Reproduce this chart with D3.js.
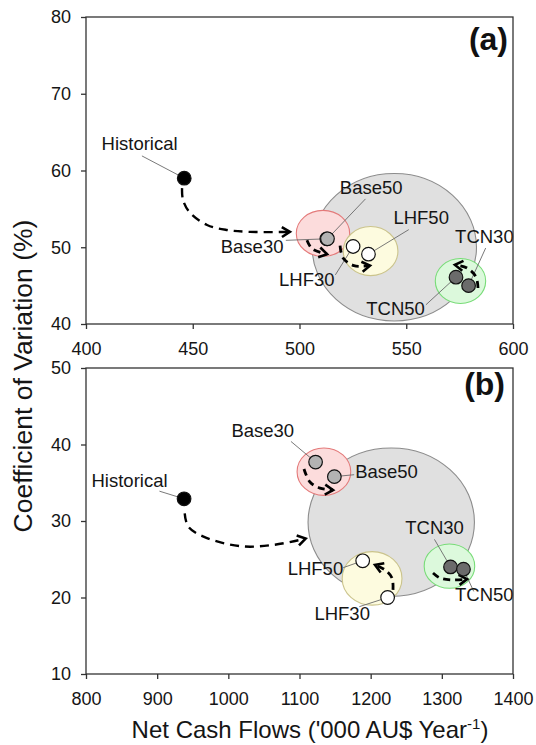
<!DOCTYPE html>
<html>
<head>
<meta charset="utf-8">
<script src="https://cdn.jsdelivr.net/npm/d3@7"></script>
<style>
  body { margin: 0; background: #fff; }
  svg { display: block; font-family: Arial, "Liberation Sans", sans-serif; }
</style>
</head>
<body>
<main></main>
<script>
(function () {

    // scenario points
    var scenarios = ["Historical", "Base30", "Base50", "LHF30", "LHF50", "TCN30", "TCN50"];
    var cashA = [446.0, 512.8, 513.1, 525.1, 532.3, 579.2, 573.3];
    var cvA = [59.0, 51.1, 51.1, 50.1, 49.1, 45.0, 46.1];
    var cashB = [937.8, 1122.6, 1149.0, 1223.8, 1188.8, 1312.2, 1330.4];
    var cvB = [32.9, 37.7, 35.8, 20.0, 24.8, 24.0, 23.7];

    // shaded groups: all, Base, LHF, TCN
    var groups = ["All", "Base", "LHF", "TCN"];
    var ellCxA = [544.4, 511.0, 533.3, 575.4],
        ellCyA = [50.0, 51.8, 49.5, 45.6],
        ellRxA = [38.5, 12.5, 12.8, 11.8],
        ellRyA = [9.6, 3.0, 3.2, 2.93];
    var ellCxB = [1228.9, 1134.3, 1202.0, 1310.7],
        ellCyB = [29.85, 36.45, 22.5, 24.1],
        ellRxB = [116.9, 37.7, 42.0, 35.5],
        ellRyB = [9.7, 3.1, 3.5, 2.9];

    // axis ticks
    var xTicksA = [400, 450, 500, 550, 600],
        yTicksA = [40, 50, 60, 70, 80],
        xTicksB = [800, 900, 1000, 1100, 1200, 1300, 1400],
        yTicksB = [10, 20, 30, 40, 50];

    // dashed arrows, in data units
    var arrowsA = [
        [[445.0, 57.7], [445.4, 56.2], [448.7, 54.5], [456.7, 52.9], [466.0, 52.25], [476.8, 52.0], [495.5, 52.0]],
        [[503.5, 50.9], [505.9, 49.8], [512.9, 49.1]],
        [[519.0, 50.2], [520.4, 48.6], [525.5, 47.6], [533.0, 47.6]],
        [[583.6, 44.7], [582.7, 46.1], [578.5, 47.3], [572.8, 47.7]]
    ];
    var arrowsB = [
        [[938.7, 31.0], [943.5, 29.3], [965.1, 27.95], [1017.8, 26.7], [1065.4, 26.9], [1108.6, 27.7]],
        [[1106.3, 36.8], [1114.7, 35.1], [1128.8, 34.3], [1147.1, 34.05]],
        [[1231.4, 21.0], [1230.0, 22.55], [1220.1, 23.6], [1206.1, 24.25]],
        [[1287.6, 23.2], [1297.4, 22.55], [1314.3, 22.3], [1335.4, 22.4]]
    ];

    // label placement (data units): text anchor point and leader start
    var labelsA = [
        {x: 425.1, y: 62.7, a: "middle", lx: 426.2, ly: 61.9},
        {x: 492.5, y: 49.2, a: "end", lx: 493.6, ly: 50.9},
        {x: 533.6, y: 57.0, a: "middle", lx: 530.9, ly: 56.3},
        {x: 503.4, y: 45.0, a: "middle", lx: 516.8, ly: 46.4},
        {x: 557.0, y: 53.0, a: "middle", lx: 551.2, ly: 52.3},
        {x: 586.6, y: 50.5, a: "middle", lx: 587.2, ly: 49.9},
        {x: 545.0, y: 41.2, a: "middle", lx: 559.2, ly: 42.5}
    ];
    var labelsB = [
        {x: 861.2, y: 34.4, a: "middle", lx: 903.2, ly: 33.9},
        {x: 1048.4, y: 41.0, a: "middle", lx: 1088.0, ly: 40.4},
        {x: 1178.2, y: 35.6, a: "start", lx: 1176.8, ly: 36.05},
        {x: 1160.0, y: 17.0, a: "middle", lx: 1184.0, ly: 18.8},
        {x: 1161.4, y: 23.0, a: "end", lx: 1161.4, ly: 23.9},
        {x: 1289.8, y: 28.3, a: "middle", lx: 1289.6, ly: 27.6},
        {x: 1359.7, y: 19.5, a: "middle", lx: 1344.8, ly: 20.8}
    ];

    var width = 536, height = 745;
    var ellFill = ["#e0e0e0", "#fcdcdc", "#fdfbdf", "#dcf9dc"],
        ellStroke = ["#8c8c8c", "#e47a7a", "#cbc48c", "#78dc78"];
    var dotFill = function (name) {
        if (name === "Historical") return "#000";
        if (name.indexOf("Base") === 0) return "#b3b3b3";
        if (name.indexOf("LHF") === 0) return "#fff";
        return "#6b6b6b";
    };

    var svg = d3.select("main").append("svg")
        .attr("width", width)
        .attr("height", height);

    var defs = svg.append("defs");
    defs.append("marker")
        .attr("id", "head")
        .attr("markerUnits", "userSpaceOnUse")
        .attr("viewBox", "0 0 14 14")
        .attr("markerWidth", 14)
        .attr("markerHeight", 14)
        .attr("refX", 11)
        .attr("refY", 7)
        .attr("orient", "auto")
        .append("path")
        .attr("d", "M3,2 L11,7 L3,12")
        .attr("fill", "none")
        .attr("stroke", "#000")
        .attr("stroke-width", 2.6);

    var Panel = function (opt) {
        var x = d3.scaleLinear().domain(opt.xDomain).range([86, 513]),
            y = d3.scaleLinear().domain(opt.yDomain).range([opt.bottom, opt.top]),
            g = svg.append("g");

        g.append("rect")
            .attr("x", 86).attr("y", opt.top)
            .attr("width", 427).attr("height", opt.bottom - opt.top)
            .attr("fill", "#fff");

        g.selectAll("ellipse")
            .data(groups)
            .enter().append("ellipse")
            .attr("cx", function (d, i) { return x(opt.ecx[i]); })
            .attr("cy", function (d, i) { return y(opt.ecy[i]); })
            .attr("rx", function (d, i) { return x(opt.ecx[i] + opt.erx[i]) - x(opt.ecx[i]); })
            .attr("ry", function (d, i) { return y(opt.ecy[i] - opt.ery[i]) - y(opt.ecy[i]); })
            .attr("fill", function (d, i) { return ellFill[i]; })
            .attr("stroke", function (d, i) { return ellStroke[i]; })
            .attr("stroke-width", 1.1);

        // leader lines
        g.selectAll("line.leader")
            .data(opt.labels)
            .enter().append("line")
            .attr("class", "leader")
            .attr("x1", function (d) { return x(d.lx); })
            .attr("y1", function (d) { return y(d.ly); })
            .attr("x2", function (d, i) { return x(opt.xs[i]); })
            .attr("y2", function (d, i) { return y(opt.ys[i]); })
            .attr("stroke", "#6a6a6a")
            .attr("stroke-width", 0.9);

        var line = d3.line()
            .x(function (d) { return x(d[0]); })
            .y(function (d) { return y(d[1]); })
            .curve(d3.curveCatmullRom);

        g.selectAll("path.arrow")
            .data(opt.arrows)
            .enter().append("path")
            .attr("class", "arrow")
            .attr("d", line)
            .attr("fill", "none")
            .attr("stroke", "#000")
            .attr("stroke-width", function (d, i) { return i === 0 ? 2.4 : 2.8; })
            .attr("stroke-dasharray", function (d, i) { return i === 0 ? "9,6" : "7,5"; })
            .attr("marker-end", "url(#head)");

        g.selectAll("circle")
            .data(scenarios)
            .enter().append("circle")
            .attr("cx", function (d, i) { return x(opt.xs[i]); })
            .attr("cy", function (d, i) { return y(opt.ys[i]); })
            .attr("r", 6.8)
            .attr("fill", dotFill)
            .attr("stroke", "#111")
            .attr("stroke-width", 1.2);

        g.selectAll("text.lab")
            .data(opt.labels)
            .enter().append("text")
            .attr("class", "lab")
            .attr("x", function (d) { return x(d.x); })
            .attr("y", function (d) { return y(d.y); })
            .attr("text-anchor", function (d) { return d.a; })
            .attr("font-size", 18.5)
            .attr("fill", "#151515")
            .text(function (d, i) { return scenarios[i]; });

        var ax = g.append("g")
            .attr("transform", "translate(0," + opt.bottom + ")")
            .call(d3.axisBottom(x).tickValues(opt.xTicks).tickFormat(d3.format("d"))
                .tickSize(5).tickPadding(13).tickSizeOuter(0));
        var ay = g.append("g")
            .attr("transform", "translate(86,0)")
            .call(d3.axisLeft(y).tickValues(opt.yTicks).tickFormat(d3.format("d"))
                .tickSize(5).tickPadding(10).tickSizeOuter(0));
        [ax, ay].forEach(function (a) {
            a.select(".domain").remove();
            a.selectAll("line").attr("stroke", "#333").attr("stroke-width", 1.3);
            a.selectAll("text").attr("font-size", 18).attr("fill", "#151515")
                .attr("font-family", "Arial, 'Liberation Sans', sans-serif");
        });

        g.append("rect")
            .attr("x", 86).attr("y", opt.top)
            .attr("width", 427).attr("height", opt.bottom - opt.top)
            .attr("fill", "none")
            .attr("stroke", "#333")
            .attr("stroke-width", 1.3);

        g.append("text")
            .attr("x", opt.tagX).attr("y", opt.tagY)
            .attr("text-anchor", "end")
            .attr("font-size", 32)
            .attr("font-weight", "bold")
            .attr("fill", "#111")
            .text(opt.tag);
    };

    Panel({xDomain: [400, 600], yDomain: [40, 80], top: 17, bottom: 324,
           xs: cashA, ys: cvA, ecx: ellCxA, ecy: ellCyA, erx: ellRxA, ery: ellRyA,
           arrows: arrowsA, labels: labelsA, xTicks: xTicksA, yTicks: yTicksA,
           tag: "(a)", tagX: 508, tagY: 50});
    Panel({xDomain: [800, 1400], yDomain: [10, 50], top: 368, bottom: 674,
           xs: cashB, ys: cvB, ecx: ellCxB, ecy: ellCyB, erx: ellRxB, ery: ellRyB,
           arrows: arrowsB, labels: labelsB, xTicks: xTicksB, yTicks: yTicksB,
           tag: "(b)", tagX: 505, tagY: 395});

    // axis titles
    svg.append("text")
        .attr("transform", "translate(32,376) rotate(-90)")
        .attr("text-anchor", "middle")
        .attr("font-size", 26.5)
        .attr("fill", "#151515")
        .text("Coefficient of Variation (%)");

    var xt = svg.append("text")
        .attr("x", 310).attr("y", 738)
        .attr("text-anchor", "middle")
        .attr("font-size", 24)
        .attr("fill", "#151515");
    xt.append("tspan").text("Net Cash Flows ('000 AU$ Year");
    xt.append("tspan").attr("dy", -9).attr("font-size", 15).text("-1");
    xt.append("tspan").attr("dy", 9).text(")");

})();
</script>
</body>
</html>
